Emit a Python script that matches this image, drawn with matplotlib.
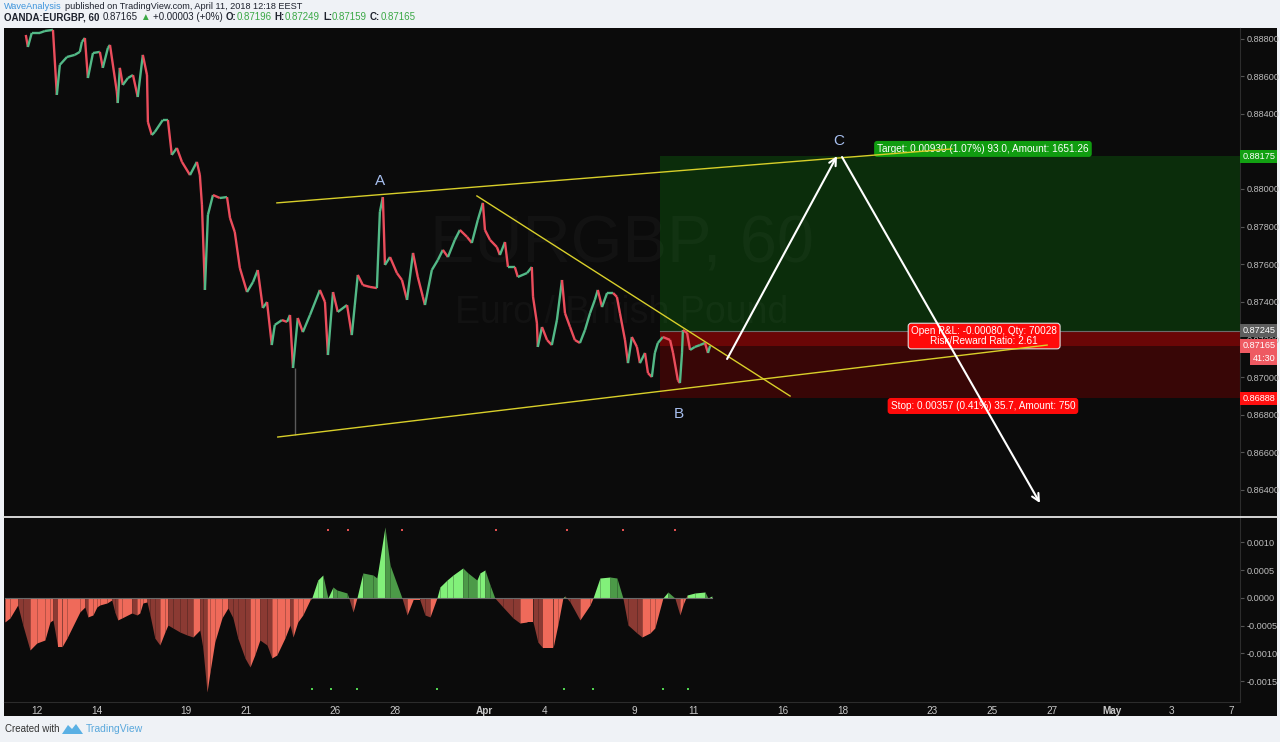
import matplotlib
matplotlib.use('Agg')
import matplotlib.pyplot as plt
import matplotlib.transforms as mtransforms
from matplotlib.collections import LineCollection
from matplotlib.patches import Rectangle, Polygon
from matplotlib.lines import Line2D

plt.rcParams['font.family'] = ['Liberation Sans', 'DejaVu Sans']

W, H = 1280, 742

# EURGBP 1h: time in trading days from Mon 12 Mar, price
t_price = [-0.37, -0.30, -0.17, 0.10, 0.27, 0.54, 0.67, 0.77, 1.01, 1.27, 1.44, 1.51, 1.61, 1.71,
           1.88, 2.11, 2.21, 2.38, 2.45, 2.68, 2.71, 2.78, 2.88, 3.05, 3.22, 3.38, 3.55, 3.69,
           3.72, 3.85, 3.95, 4.22, 4.39, 4.52, 4.69, 4.86, 5.13, 5.36, 5.46, 5.53, 5.63, 5.73,
           5.90, 6.13, 6.37, 6.47, 6.63, 6.80, 7.04, 7.24, 7.40, 7.57, 7.71, 7.87, 7.97, 8.21,
           8.38, 8.48, 8.58, 8.74, 8.91, 9.15, 9.48, 9.65, 9.75, 9.92, 10.08, 10.39, 10.55, 10.65,
           10.75, 10.92, 11.16, 11.39, 11.49, 11.59, 11.66, 11.83, 12.06, 12.23, 12.40, 12.60,
           12.76, 12.93, 13.00, 13.23, 13.43, 13.60, 13.77, 14.00, 14.17, 14.41, 14.57, 14.77,
           14.94, 15.01, 15.18, 15.41, 15.51, 15.68, 15.78, 16.01, 16.11, 16.42, 16.58, 16.62,
           16.75, 16.78, 16.92, 17.09, 17.25, 17.42, 17.59, 17.69, 17.86, 18.02, 18.19, 18.36,
           18.53, 18.69, 18.79, 18.93, 19.10, 19.30, 19.43, 19.53, 19.70, 19.80, 19.93, 20.10,
           20.20, 20.37, 20.47, 20.60, 20.70, 20.80, 20.97, 21.21, 21.31, 21.47, 21.54, 21.61,
           21.64, 21.78, 21.88, 22.04, 22.21, 22.38, 22.48, 22.55]
close = [0.88819, 0.88755, 0.88830, 0.88830, 0.88840, 0.88846, 0.88500, 0.88660, 0.88702, 0.88713,
         0.88729, 0.88782, 0.88803, 0.88590, 0.88723, 0.88729, 0.88644, 0.88750, 0.88766, 0.88516,
         0.88457, 0.88644, 0.88553, 0.88590, 0.88606, 0.88489, 0.88713, 0.88606, 0.88356, 0.88287,
         0.88303, 0.88367, 0.88367, 0.88181, 0.88218, 0.88144, 0.88074, 0.88144, 0.88074, 0.87915,
         0.87463, 0.87862, 0.87968, 0.87952, 0.87957, 0.87846, 0.87771, 0.87580, 0.87452, 0.87505,
         0.87569, 0.87367, 0.87399, 0.87170, 0.87277, 0.87303, 0.87293, 0.87330, 0.87048, 0.87314,
         0.87239, 0.87330, 0.87463, 0.87399, 0.87117, 0.87452, 0.87346, 0.87383, 0.87223, 0.87383,
         0.87543, 0.87489, 0.87479, 0.87473, 0.87878, 0.87957, 0.87596, 0.87638, 0.87553, 0.87516,
         0.87410, 0.87660, 0.87532, 0.87426, 0.87383, 0.87569, 0.87622, 0.87676, 0.87638, 0.87729,
         0.87782, 0.87745, 0.87713, 0.87835, 0.87926, 0.87782, 0.87729, 0.87691, 0.87649, 0.87718,
         0.87585, 0.87585, 0.87532, 0.87553, 0.87585, 0.87426, 0.87287, 0.87160, 0.87266, 0.87197,
         0.87170, 0.87303, 0.87516, 0.87340, 0.87266, 0.87197, 0.87181, 0.87250, 0.87340, 0.87410,
         0.87463, 0.87372, 0.87447, 0.87447, 0.87426, 0.87340, 0.87197, 0.87074, 0.87213, 0.87160,
         0.87074, 0.87128, 0.87021, 0.87000, 0.87128, 0.87181, 0.87213, 0.87197, 0.87128, 0.86984,
         0.86968, 0.87128, 0.87250, 0.87234, 0.87144, 0.87160, 0.87170, 0.87181, 0.87128, 0.87165]

# long wick near the March low
wick_t = [8.64]
wick_hi = [0.87048]
wick_lo = [0.86691]

# oscillator (units of 1e-4)
t_osc = [-1.07, -0.90, -0.64, -0.47, -0.23, 0.00, 0.27, 0.44, 0.54, 0.70, 0.84, 1.01, 1.44, 1.61,
         1.71, 1.88, 2.01, 2.11, 2.35, 2.51, 2.61, 2.71, 2.85, 3.18, 3.35, 3.45, 3.55, 3.69, 3.79,
         3.95, 4.12, 4.29, 4.39, 4.56, 4.79, 5.03, 5.23, 5.46, 5.56, 5.70, 5.80, 5.96, 6.20, 6.40,
         6.57, 6.73, 6.97, 7.14, 7.30, 7.47, 7.71, 7.87, 8.04, 8.31, 8.48, 8.58, 8.74, 8.91, 9.15,
         9.21, 9.41, 9.58, 9.75, 9.92, 10.05, 10.39, 10.45, 10.59, 10.72, 10.92, 11.26, 11.39,
         11.66, 11.83, 12.23, 12.40, 12.60, 12.83, 13.00, 13.17, 13.40, 13.50, 13.74, 13.94, 14.27,
         14.44, 14.74, 14.84, 15.01, 15.18, 15.34, 15.61, 15.95, 16.18, 16.42, 16.62, 16.78, 16.95,
         17.29, 17.45, 17.62, 17.69, 17.86, 18.19, 18.53, 18.63, 18.86, 19.20, 19.43, 19.63, 19.80,
         20.10, 20.27, 20.54, 20.70, 20.97, 21.14, 21.37, 21.54, 21.64, 21.78, 22.04, 22.38, 22.48,
         22.61]
osc_e4 = [-4.32, -3.60, -1.26, -4.87, -9.37, -8.11, -7.57, -4.32, -3.96, -8.83, -8.83, -7.21, -2.52,
          -1.62, -3.42, -3.06, -1.62, -1.26, -0.90, -0.36, -2.52, -3.96, -3.60, -2.70, -3.06, -2.70,
          -0.90, -0.72, -3.06, -7.21, -8.47, -6.13, -4.87, -5.41, -6.13, -6.67, -7.03, -5.77, -9.01,
          -16.94, -13.33, -7.93, -3.60, -1.80, -3.60, -7.21, -10.81, -12.43, -10.27, -7.57, -8.47,
          -10.81, -10.27, -7.21, -4.87, -7.03, -4.32, -3.06, -0.36, 0.0, 3.24, 4.14, 0.0, 1.98, 1.44,
          0.90, 0.0, -2.52, 0.0, 4.51, 4.14, 3.60, 12.79, 5.95, 0.0, -3.06, -0.36, -0.36, -3.06,
          -3.42, 0.0, 1.98, 3.24, 4.14, 5.41, 4.51, 3.24, 4.51, 5.05, 2.34, 0.0, -1.62, -3.60, -4.51,
          -4.32, -4.32, -7.93, -9.01, -9.01, -4.87, 0.0, 0.36, -0.72, -3.96, -1.26, 0.0, 3.60, 3.78,
          3.60, 0.0, -4.87, -6.31, -7.03, -6.31, -5.41, 0.0, 1.08, 0.0, -3.06, -1.26, 0.54, 0.90,
          1.08, 0.0, 0.36]
dots_top_t = [9.75, 10.42, 12.23, 15.38, 17.76, 19.63, 21.37]
dots_bot_t = [9.21, 9.85, 10.72, 13.40, 17.65, 18.63, 20.97, 21.81]
dot_top_val = 0.001225
dot_bot_val = -0.00164

# time axis
xtick_days = [0, 2, 5, 7, 10, 12, 15, 17, 20, 22, 25, 27, 30, 32, 34, 36, 38, 40]
xtick_labels = ['12', '14', '19', '21', '26', '28', 'Apr', '4', '9', '11', '16', '18', '23',
                '25', '27', 'May', '3', '7']
price_ticks = [0.864, 0.866, 0.868, 0.870, 0.872, 0.874, 0.876, 0.878, 0.880, 0.884,
               0.886, 0.888]
osc_ticks = [-0.0015, -0.0010, -0.0005, 0.0, 0.0005, 0.0010]

# position tool
pos_start = 20.87
entry = 0.87245
target = 0.88175
stop = 0.86888
last = 0.87165

# drawings (day, price)
upper_line = [(8.04, 0.87926), (30.65, 0.88213)]
lower_line = [(8.07, 0.86681), (33.84, 0.87170)]
down_line = [(14.74, 0.87963), (25.23, 0.86899)]
arrow_up = [(23.12, 0.87096), (26.80, 0.88175)]
arrow_down = [(26.97, 0.88170), (33.60, 0.86330)]
wave_labels = [('A', 11.49, 0.88043), ('B', 21.51, 0.86803), ('C', 26.87, 0.88255)]

UP = '#53b987'
DOWN = '#eb4d5c'
BG = '#0b0b0b'

fig = plt.figure(figsize=(12.8, 7.42), dpi=100, facecolor='#eff2f6')
fig.add_artist(Rectangle((4 / W, 1 - 716 / H), 1273 / W, 688 / H, transform=fig.transFigure,
                         fc=BG, ec='none', zorder=0))

ax = fig.add_axes([4 / W, 1 - 516 / H, 1236 / W, 488 / H])
ax2 = fig.add_axes([4 / W, 1 - 702 / H, 1236 / W, 185 / H])
for a in (ax, ax2):
    a.set_facecolor(BG)
    a.set_xlim(-1.1, 40.3)
    for s in ('top', 'left', 'bottom'):
        a.spines[s].set_visible(False)
    a.spines['right'].set_color('#2c2c2c')
    a.yaxis.tick_right()
    a.tick_params(axis='y', colors='#555555', labelcolor='#bcbcbc', labelsize=6.6,
                  length=3, pad=1.5)

ax.set_ylim(0.86261, 0.88856)
ax.set_yticks(price_ticks)
ax.set_yticklabels([f'{v:.5f}' for v in price_ticks])
ax.set_xticks([])

ax2.set_ylim(-0.001874, 0.001459)
ax2.set_yticks(osc_ticks)
ax2.set_yticklabels([f'{v:.4f}' for v in osc_ticks])
ax2.set_xticks(xtick_days)
ax2.set_xticklabels(xtick_labels)
ax2.tick_params(axis='x', length=0, pad=3, labelcolor='#c8c8c8', labelsize=7.2)
for lbl in ax2.get_xticklabels():
    lbl.set_family(['Liberation Sans Narrow', 'Liberation Sans'])
    if lbl.get_text() in ('Apr', 'May'):
        lbl.set_fontweight('bold')

# position boxes
ax.add_patch(Rectangle((pos_start, entry), 45, target - entry, fc='#0b2d0b', ec='none', zorder=1.5))
ax.add_patch(Rectangle((pos_start, last), 45, entry - last, fc='#6a0606', ec='none', zorder=1.5))
ax.add_patch(Rectangle((pos_start, stop), 45, last - stop, fc='#380606', ec='none', zorder=1.5))
ax.plot([pos_start, 45], [entry, entry], color='#6b6b6b', lw=0.8, zorder=1.6)

# watermark
ax.text(19.6, 0.87702, 'EURGBP, 60', color='white', alpha=0.03, fontsize=48, ha='center',
        va='center', zorder=1.8)
ax.text(19.6, 0.87340, 'Euro / British Pound', color='white', alpha=0.03, fontsize=27,
        ha='center', va='center', zorder=1.8)

# price path
segs = [[(t_price[i - 1], close[i - 1]), (t_price[i], close[i])] for i in range(1, len(close))]
cols = [UP if close[i] >= close[i - 1] else DOWN for i in range(1, len(close))]
ax.add_collection(LineCollection(segs, colors=cols, linewidths=1.7, zorder=3))
ax.vlines(wick_t, wick_lo, wick_hi, color='#5a5a5a', lw=1, zorder=2.9)

# channel and trend lines
for ln in (upper_line, lower_line, down_line):
    ax.plot([ln[0][0], ln[1][0]], [ln[0][1], ln[1][1]], color='#d8cf2a', lw=1, zorder=6)
for ar in (arrow_up, arrow_down):
    ax.annotate('', xy=ar[1], xytext=ar[0], zorder=6,
                arrowprops=dict(arrowstyle='->', color='white', lw=1.5, mutation_scale=13,
                                shrinkA=0, shrinkB=0))
for name, d, p in wave_labels:
    ax.text(d, p, name, color='#a8c0f0', fontsize=11, ha='center', va='center', zorder=6)

# position labels
ax.text(31.69, 0.88213, 'Target: 0.00930 (1.07%) 93.0, Amount: 1651.26', color='white',
        fontsize=7.2, ha='center', va='center', zorder=5,
        bbox=dict(boxstyle='round,pad=0.3,rounding_size=0.3', fc='#109c10', ec='none'))
ax.text(31.69, 0.86846, 'Stop: 0.00357 (0.41%) 35.7, Amount: 750', color='white',
        fontsize=7.2, ha='center', va='center', zorder=5,
        bbox=dict(boxstyle='round,pad=0.3,rounding_size=0.3', fc='#ff0a0a', ec='none'))
ax.text(31.73, 0.87218, 'Open P&L: -0.00080, Qty: 70028\nRisk/Reward Ratio: 2.61', color='white',
        fontsize=7.2, ha='center', va='center', zorder=5, linespacing=0.95,
        bbox=dict(boxstyle='round,pad=0.3,rounding_size=0.3', fc='#ff0a0a', ec='#dddddd', lw=0.8))

# right-scale tags
tr = mtransforms.blended_transform_factory(ax.transAxes, ax.transData)
for val, txt, fc in [(target, '0.88175', '#12a012'), (entry, '0.87245', '#5e5e5e'),
                     (last, '0.87165', '#ee5a62'), (0.87101, '41:30', '#ee5a62'),
                     (stop, '0.86888', '#ff1010')]:
    ha = 'right' if txt == '41:30' else 'left'
    x = 1.0285 if txt == '41:30' else 1.0018
    ax.text(x, val, txt, transform=tr, color='white', fontsize=6.6, ha=ha, va='center',
            clip_on=False, zorder=8,
            bbox=dict(boxstyle='square,pad=0.22', fc=fc, ec='none'))

# oscillator
for i in range(1, len(osc_e4)):
    a0, a1 = osc_e4[i - 1] * 1e-4, osc_e4[i] * 1e-4
    rising = a1 >= a0
    if a0 + a1 >= 0:
        c = '#82f07a' if rising else '#4c9a48'
    else:
        c = '#ef6a5a' if rising else '#8b3a33'
    ax2.fill_between([t_osc[i - 1], t_osc[i]], [a0, a1], 0, color=c, lw=0, zorder=2)
ax2.plot([t_osc[0], t_osc[-1]], [0, 0], color='#6a6a6a', lw=0.8, zorder=3)
ax2.scatter(dots_top_t, [dot_top_val] * len(dots_top_t), s=2.5, color='#e05050', marker='s',
            zorder=3, linewidths=0)
ax2.scatter(dots_bot_t, [dot_bot_val] * len(dots_bot_t), s=2.5, color='#50d050', marker='s',
            zorder=3, linewidths=0)

# panel separators
fig.add_artist(Line2D([4 / W, 1277 / W], [1 - 516.5 / H] * 2, color='#e6e6e6', lw=1.3))
fig.add_artist(Line2D([4 / W, 1240 / W], [1 - 702 / H] * 2, color='#2c2c2c', lw=0.8))


def run_text(x_px, y_px, pieces, size):
    r = fig.canvas.get_renderer()
    x = x_px
    for s, col, wt, gap in pieces:
        t = fig.text(x / W, 1 - y_px / H, s, color=col, fontsize=size, fontweight=wt,
                     ha='left', va='center')
        x += t.get_window_extent(r).width + gap


DARK = '#1e222d'
GRN = '#3aa845'
run_text(4, 6.5, [('WaveAnalysis', '#3d94dc', 'normal', 3),
                  ('published on TradingView.com, April 11, 2018 12:18 EEST', DARK, 'normal', 0)],
         6.6)
run_text(4, 17.5, [('OANDA:EURGBP, 60', DARK, 'bold', 3), ('0.87165', DARK, 'normal', 3),
                   ('\u25b2', GRN, 'normal', 3), ('+0.00003 (+0%)', DARK, 'normal', 3),
                   ('O:', DARK, 'bold', 0), ('0.87196', GRN, 'normal', 3),
                   ('H:', DARK, 'bold', 0), ('0.87249', GRN, 'normal', 3),
                   ('L:', DARK, 'bold', 0), ('0.87159', GRN, 'normal', 3),
                   ('C:', DARK, 'bold', 0), ('0.87165', GRN, 'normal', 0)], 7)

# footer
fig.text(5 / W, 1 - 729 / H, 'Created with', color='#333333', fontsize=7, ha='left', va='center')
logo = [(62, 734), (68, 725), (72, 729), (76, 724), (83, 734)]
fig.add_artist(Polygon([(x / W, 1 - y / H) for x, y in logo], closed=True,
                       transform=fig.transFigure, fc='#5ab0e4', ec='none'))
fig.text(86 / W, 1 - 729 / H, 'TradingView', color='#5aa8dc', fontsize=7.5, ha='left',
         va='center')

fig.savefig('out.png', dpi=100, facecolor=fig.get_facecolor())
